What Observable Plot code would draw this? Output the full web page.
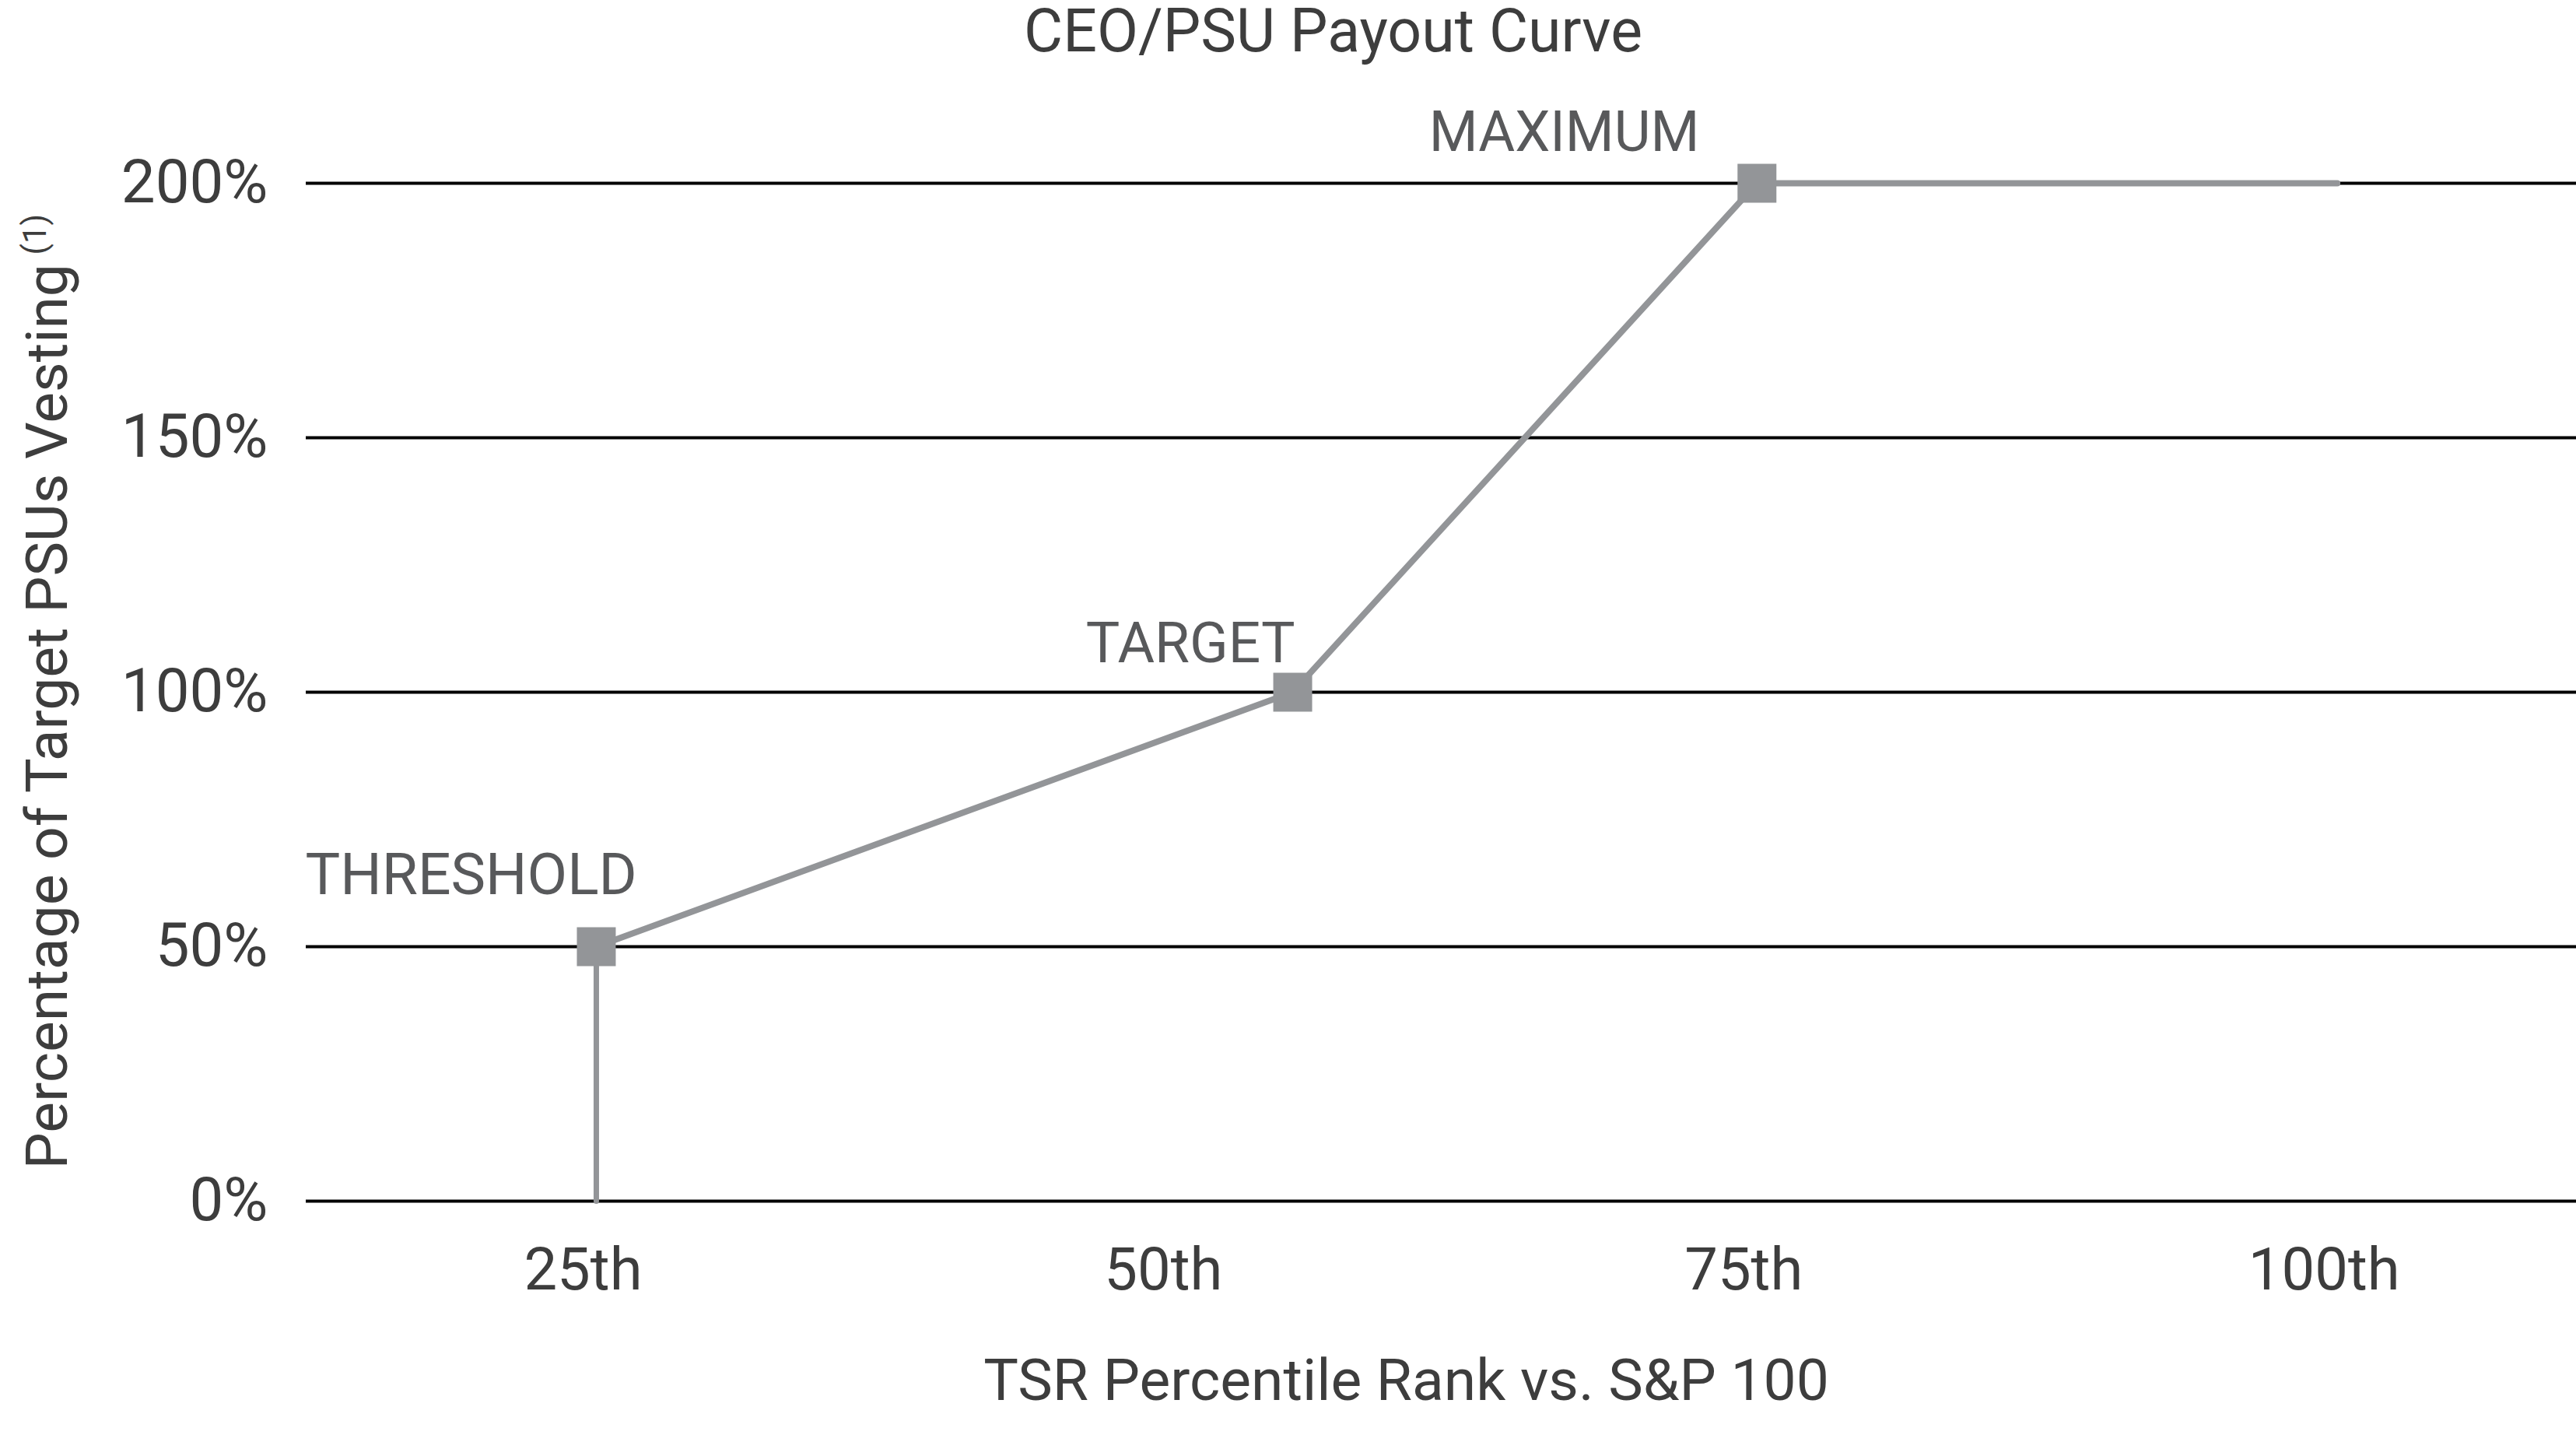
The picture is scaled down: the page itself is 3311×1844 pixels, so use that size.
<!DOCTYPE html>
<html>
<head>
<meta charset="utf-8">
<script src="https://cdn.jsdelivr.net/npm/d3@7"></script>
<script src="https://cdn.jsdelivr.net/npm/@observablehq/plot@0.6"></script>
<style>
  html, body { margin: 0; padding: 0; background: #fff; }
  #title {
    width: 3311px; box-sizing: border-box; padding-left: 116px;
    height: 80px; line-height: 80px; text-align: center;
    font-family: Roboto, sans-serif; font-size: 77px; color: #3d3d3d;
  }
</style>
</head>
<body>
<div id="title">CEO/PSU Payout Curve</div>
<div id="chart"></div>
<script>
// Data
const percentiles = [25, 55, 75, 100];      // TSR percentile rank
const payout = [50, 100, 200, 200];         // % of target PSUs vesting
const pointLabels = ["THRESHOLD", "TARGET", "MAXIMUM"];
const xTicks = [25, 50, 75, 100];
const xTickLabels = ["25th", "50th", "75th", "100th"];
const yTicks = [0, 50, 100, 150, 200];
const thresholdDrop = [{x: 25, y: 0}, {x: 25, y: 50}];
const yLabel = "Percentage of Target PSUs Vesting";
const yLabelNote = "(1)";
const xLabel = "TSR Percentile Rank vs. S&P 100";

const curve = percentiles.map((x, i) => ({x, y: payout[i]}));
const points = pointLabels.map((label, i) => ({x: percentiles[i], y: payout[i], label}));

const gray = "#939598";
const labelGray = "#58595b";
const textDark = "#3d3d3d";

const chart = Plot.plot({
  width: 3311,
  height: 1764,
  marginTop: 155,
  marginBottom: 301,
  marginLeft: 393,
  marginRight: 0,
  style: {fontFamily: "Roboto, sans-serif", background: "#fff"},
  x: {domain: [12.5, 110.3]},
  y: {domain: [0, 200]},
  marks: [
    Plot.ruleY(yTicks, {stroke: "#000", strokeWidth: 4}),
    Plot.line(thresholdDrop, {x: "x", y: "y", stroke: gray, strokeWidth: 7}),
    Plot.line(curve, {x: "x", y: "y", stroke: gray, strokeWidth: 8}),
    Plot.dot(points, {x: "x", y: "y", symbol: "square", r: 28.2, fill: gray, stroke: null}),
    Plot.text([points[0]], {x: "x", y: "y", text: "label", textAnchor: "start", lineAnchor: "bottom", dx: -374, dy: -68, fontSize: 75, fill: labelGray}),
    Plot.text([points[1]], {x: "x", y: "y", text: "label", textAnchor: "end", lineAnchor: "bottom", dx: 3, dy: -39, fontSize: 73, fill: labelGray}),
    Plot.text([points[2]], {x: "x", y: "y", text: "label", textAnchor: "end", lineAnchor: "bottom", dx: -74, dy: -42, fontSize: 72, fill: labelGray}),
    Plot.axisX(xTicks, {tickSize: 0, tickPadding: 60, tickFormat: d => xTickLabels[xTicks.indexOf(d)], fontSize: 76, fill: textDark, dx: -17, label: null}),
    Plot.axisY(yTicks, {tickSize: 0, tickPadding: 49, tickFormat: d => d + "%", fontSize: 78, fill: textDark, label: null}),
    Plot.text([yLabel], {text: d => d, frameAnchor: "left", rotate: -90, textAnchor: "start", lineAnchor: "bottom", dx: -308, dy: 613, fontSize: 75, fill: textDark}),
    Plot.text([yLabelNote], {text: d => d, frameAnchor: "left", rotate: -90, textAnchor: "start", lineAnchor: "bottom", dx: -335, dy: -562, fontSize: 42, fill: textDark}),
    Plot.text([xLabel], {text: d => d, frameAnchor: "bottom", lineAnchor: "bottom", dx: -45, dy: 255, fontSize: 75, fill: textDark})
  ]
});
document.getElementById("chart").appendChild(chart);
</script>
</body>
</html>
